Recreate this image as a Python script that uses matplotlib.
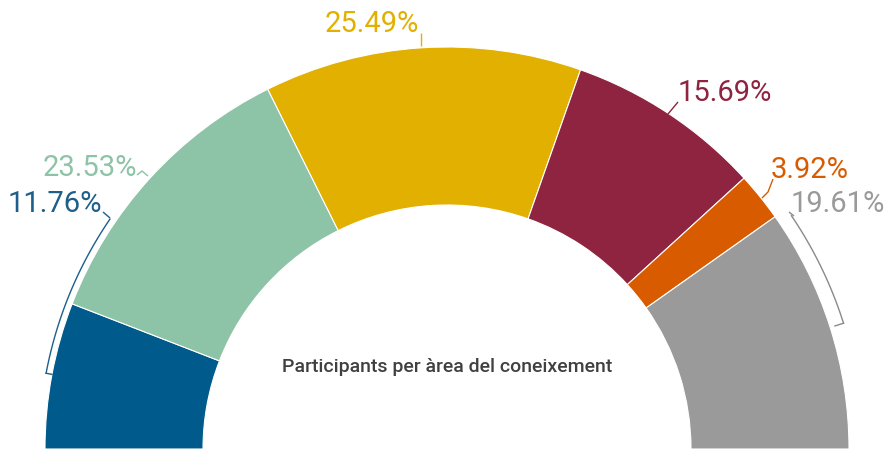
import numpy as np
import matplotlib
matplotlib.use("Agg")
import matplotlib.pyplot as plt

# ---- data ----
categories = ["Àrea 1", "Àrea 2", "Àrea 3", "Àrea 4", "Àrea 5", "Àrea 6"]
values = [11.76, 23.53, 25.49, 15.69, 3.92, 19.61]
labels = ["11.76%", "23.53%", "25.49%", "15.69%", "3.92%", "19.61%"]
title = "Participants per àrea del coneixement"

# ---- style ----
colors = ["#005B8C", "#8DC3A6", "#E1B000", "#8E2440", "#D95B00", "#9A9A9A"]
text_colors = ["#1D5F8A", "#8DC3A6", "#E1B000", "#8E2440", "#D95B00", "#9A9A9A"]

W, H = 885, 449
fig = plt.figure(figsize=(W / 100, H / 100), dpi=100)
ax = fig.add_axes([0, 0, 1, 1])

CX, CY = 447, 0          # center in data coords (pixel-like, y up)
R, WIDTH = 402, 158

total = sum(values)
wedges, _ = ax.pie(values + [total], radius=R, center=(CX, CY), startangle=180,
                   counterclock=False, colors=colors + ["none"],
                   wedgeprops=dict(width=WIDTH, edgecolor="white", linewidth=0.8),
                   normalize=True)
wedges[-1].set_visible(False)
ax.set_xlim(0, W)
ax.set_ylim(0, H)
ax.set_aspect("equal")
ax.axis("off")

def P(px, py):
    return px, H - py

font = ["Roboto", "DejaVu Sans"]
# label positions (pixels: left x, baseline y)
label_pos = [(8, 212), (43, 176), (325, 32), (678, 101), (771, 178), (791, 212)]
for txt, col, (px, py) in zip(labels, text_colors, label_pos):
    x, y = P(px, py)
    ax.text(x, y, txt, color=col, fontsize=21, family=font, ha="left", va="baseline")

lw = 1.0
def poly(pts, col):
    xs, ys = zip(*[P(a, b) for a, b in pts])
    ax.plot(xs, ys, color=col, lw=lw, solid_capstyle="butt")

def arc(r, a0, a1, col):
    t = np.radians(np.linspace(a0, a1, 60))
    ax.plot(CX + r * np.cos(t), CY + r * np.sin(t), color=col, lw=lw)

# blue bracket
poly([(103, 212), (110, 218)], text_colors[0])
arc(408, 145.7, 169.3, text_colors[0])
a = np.radians(169.3)
ax.plot([CX + 408 * np.cos(a), CX + 402 * np.cos(a)],
        [CY + 408 * np.sin(a), CY + 402 * np.sin(a)], color=text_colors[0], lw=lw)
# mint leader
poly([(137, 175), (142, 171), (148, 176)], text_colors[1])
# yellow leader
poly([(421, 33), (421, 46)], text_colors[2])
# maroon leader
poly([(678, 102), (668, 114)], text_colors[3])
# orange leader
poly([(773, 179), (768, 192), (762, 198)], text_colors[4])
# gray bracket
poly([(789, 212), (794, 216)], "#8A8A8A")
arc(416, 34.1, 17.6, "#8A8A8A")
a = np.radians(17.6)
ax.plot([CX + 416 * np.cos(a), CX + 407 * np.cos(a)],
        [CY + 416 * np.sin(a), CY + 407 * np.sin(a)], color="#8A8A8A", lw=lw)

x, y = P(447, 367)
ax.text(x, y, title, color="#404040", fontsize=14, family=font, weight="medium",
        ha="center", va="center")

fig.savefig("out.png", dpi=100)
